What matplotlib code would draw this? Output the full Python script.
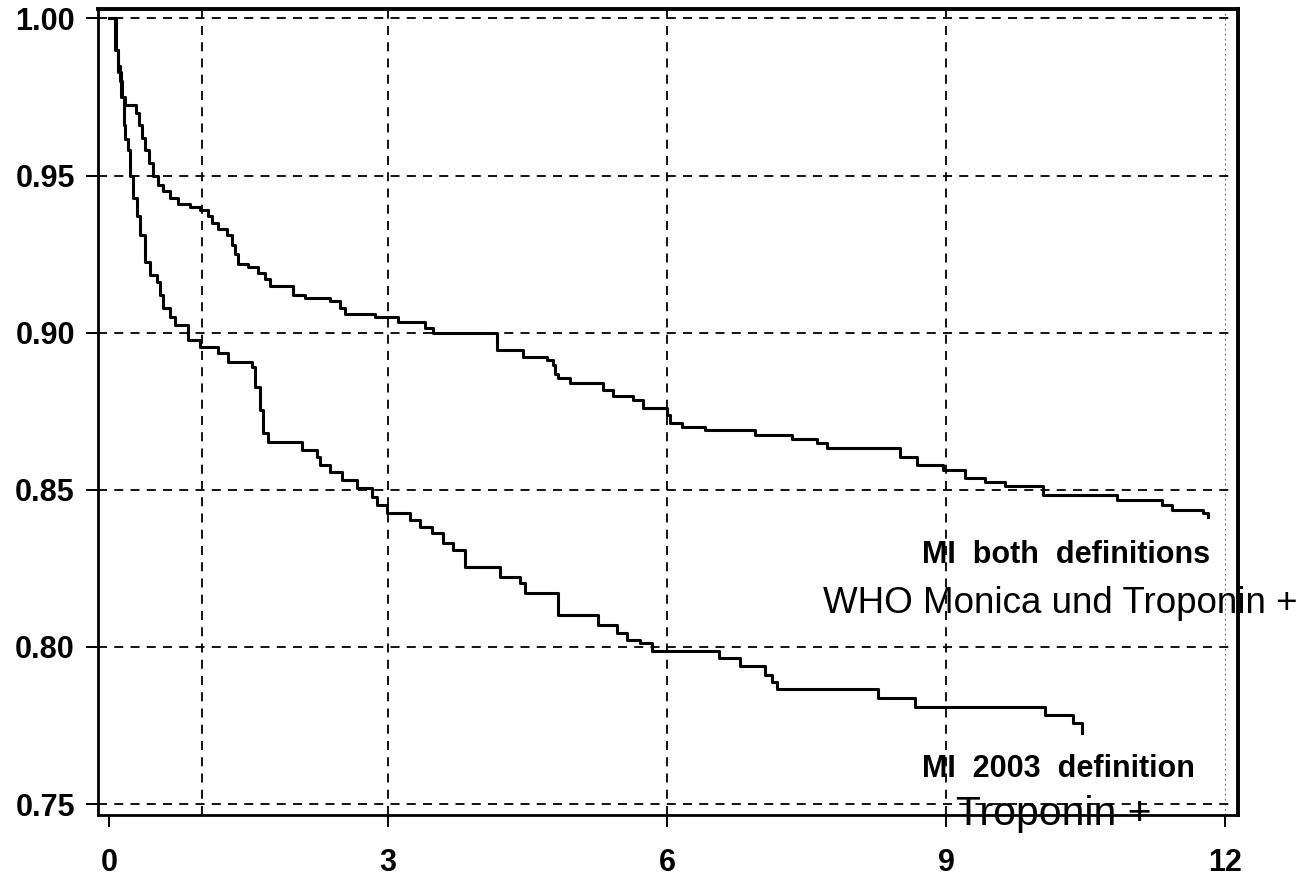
import matplotlib
matplotlib.use("Agg")
import matplotlib.pyplot as plt

# ---- data ----
months_both = [0.0, 0.065, 0.097, 0.118, 0.140, 0.172, 0.290, 0.323, 0.355, 0.387, 0.430,
               0.473, 0.527, 0.581, 0.656, 0.742, 0.871, 0.978, 1.065, 1.108, 1.172,
               1.269, 1.323, 1.355, 1.387, 1.495, 1.602, 1.677, 1.731, 1.978, 2.108,
               2.376, 2.484, 2.538, 2.860, 3.108, 3.398, 3.484, 4.172, 4.452, 4.710,
               4.774, 4.796, 4.830, 4.957, 5.312, 5.419, 5.634, 5.742, 6.000, 6.032,
               6.161, 6.409, 6.946, 7.344, 7.613, 7.720, 8.505, 8.688, 8.968, 9.204,
               9.419, 9.634, 10.043, 10.839, 11.323, 11.430, 11.763, 11.817]
surv_both = [1.000, 0.990, 0.985, 0.980, 0.975, 0.9725, 0.970, 0.966, 0.962, 0.958, 0.954,
             0.950, 0.947, 0.945, 0.943, 0.941, 0.940, 0.939, 0.937, 0.935, 0.933,
             0.931, 0.928, 0.925, 0.922, 0.921, 0.919, 0.917, 0.915, 0.912, 0.911,
             0.910, 0.908, 0.906, 0.905, 0.9035, 0.9015, 0.8998, 0.8946, 0.8923, 0.8913,
             0.8897, 0.8870, 0.8856, 0.8840, 0.8818, 0.8800, 0.8786, 0.8760, 0.8737, 0.8713,
             0.8700, 0.8690, 0.8675, 0.8660, 0.8650, 0.8634, 0.8605, 0.8580, 0.8564, 0.8538,
             0.8525, 0.8513, 0.8484, 0.8468, 0.8452, 0.8436, 0.8427, 0.8414]

months_2003 = [0.0, 0.075, 0.097, 0.129, 0.161, 0.172, 0.204, 0.226, 0.258, 0.301, 0.333,
               0.387, 0.441, 0.516, 0.548, 0.581, 0.656, 0.710, 0.849, 0.978, 1.172,
               1.280, 1.538, 1.570, 1.624, 1.656, 1.710, 2.075, 2.237, 2.269, 2.376,
               2.505, 2.667, 2.828, 2.882, 2.989, 3.237, 3.344, 3.473, 3.591, 3.699,
               3.828, 4.204, 4.419, 4.473, 4.828, 5.258, 5.462, 5.570, 5.710, 5.839,
               6.559, 6.785, 7.054, 7.129, 7.183, 8.269, 8.667, 10.065, 10.366, 10.462]
surv_2003 = [1.000, 0.990, 0.983, 0.975, 0.966, 0.9615, 0.958, 0.950, 0.943, 0.937, 0.931,
             0.9225, 0.9185, 0.916, 0.912, 0.908, 0.905, 0.9025, 0.8978, 0.8955, 0.8936,
             0.8908, 0.8890, 0.8828, 0.8755, 0.8680, 0.8653, 0.8627, 0.8605, 0.8580, 0.8557,
             0.8532, 0.8506, 0.8478, 0.8452, 0.8427, 0.8404, 0.8382, 0.8363, 0.8331, 0.8309,
             0.8255, 0.8223, 0.8204, 0.8172, 0.8102, 0.8070, 0.8045, 0.8022, 0.8013, 0.7987,
             0.7965, 0.7940, 0.7911, 0.7889, 0.7866, 0.7838, 0.7810, 0.7783, 0.7758, 0.7726]

x_ticks = [0, 3, 6, 9, 12]
x_tick_labels = ["0", "3", "6", "9", "12"]
y_ticks = [0.75, 0.80, 0.85, 0.90, 0.95, 1.00]
y_tick_labels = ["0.75", "0.80", "0.85", "0.90", "0.95", "1.00"]
v_grid = [1, 3, 6, 9]

label_both = ["MI  both  definitions", "WHO Monica und Troponin +"]
label_2003 = ["MI  2003  definition", "Troponin +"]

# ---- figure ----
W, H = 1309, 882
fig = plt.figure(figsize=(W / 100, H / 100), dpi=100, facecolor="white")
ax = fig.add_axes([98 / W, 1 - 815 / H, (1238 - 98) / W, (815 - 9) / H])
ax.set_xlim(-0.118, 12.14)
ax.set_ylim(0.7465, 1.003)

grid_kw = dict(color="black", lw=1.3, dashes=(5, 4), zorder=1)
for yv in y_ticks:
    ax.axhline(yv, xmin=0, xmax=0.995, **grid_kw)
for xv in v_grid:
    ax.axvline(xv, **grid_kw)
ax.axvline(12, color="black", lw=0.8, dashes=(1.5, 3), alpha=0.6, zorder=1)

ax.step(months_both, surv_both, where="post", color="black", lw=2.2, zorder=3)
ax.step(months_2003, surv_2003, where="post", color="black", lw=2.2, zorder=3)

ax.set_xticks(x_ticks)
ax.set_xticklabels(x_tick_labels)
ax.set_yticks(y_ticks)
ax.set_yticklabels(y_tick_labels)
ax.tick_params(axis="both", direction="out", length=8.6, width=1.4, labelsize=22)
ax.tick_params(axis="y", pad=8.0)
ax.tick_params(axis="x", pad=15)
for lab in ax.get_xticklabels() + ax.get_yticklabels():
    lab.set_fontfamily("Liberation Sans")
    lab.set_fontweight("bold")

for side, lw in [("left", 2.0), ("bottom", 2.0), ("top", 2.8), ("right", 2.8)]:
    ax.spines[side].set_linewidth(lw)
    ax.spines[side].set_color("black")

ax.text(8.74, 0.8267, label_both[0], fontsize=22, fontweight="bold",
        family="Liberation Sans", va="baseline", ha="left", clip_on=False, zorder=5)
ax.text(7.68, 0.8108, label_both[1], fontsize=26.5,
        family="Liberation Sans", va="baseline", ha="left", clip_on=False, zorder=5)
ax.text(8.74, 0.7586, label_2003[0], fontsize=22, fontweight="bold",
        family="Liberation Sans", va="baseline", ha="left", clip_on=False, zorder=5)
ax.text(9.11, 0.7433, label_2003[1], fontsize=29.5,
        family="Liberation Sans", va="baseline", ha="left", clip_on=False, zorder=5)

fig.savefig("out.png", dpi=100, facecolor="white")
